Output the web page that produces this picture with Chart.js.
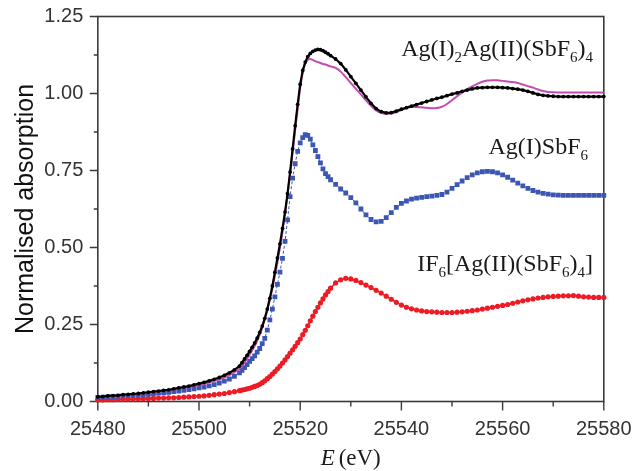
<!DOCTYPE html>
<html>
<head>
<meta charset="utf-8">
<script src="https://cdn.jsdelivr.net/npm/chart.js@4.4.1/dist/chart.umd.min.js"></script>
<style>
  html, body { margin: 0; padding: 0; background: #ffffff; }
  #wrap { width: 635px; height: 471px; }
</style>
</head>
<body>
<div id="wrap"><canvas id="c" width="635" height="471"></canvas></div>
<script>
// ---- Data ----
const energies = [
  25480,25481,25482,25483,25484,25485,25486,25487,25488,25489,
  25490,25491,25492,25493,25494,25495,25496,25497,25498,25499,
  25500,25501,25502,25503,25504,25505,25506,25507,
  25508,25508.5,25509,25509.5,25510,25510.5,25511,25511.5,25512,25512.5,
  25513,25513.5,25514,25514.5,25515,25515.5,25516,25516.5,25517,25517.5,
  25518,25518.5,25519,25519.5,25520,25520.5,25521,25521.5,25522,25522.5,
  25523,25523.5,25524,25524.5,25525,25525.5,25526,
  25527,25528,25529,25530,25531,25532,25533,25534,25535,25536,
  25537,25538,25539,25540,25541,25542,25543,25544,25545,25546,
  25547,25548,25549,25550,25551,25552,25553,25554,25555,25556,
  25557,25558,25559,25560,25561,25562,25563,25564,25565,25566,
  25567,25568,25569,25570,25571,25572,25573,25574,25575,25576,
  25577,25578,25579,25580
];

// Ag(I)2Ag(II)(SbF6)4  (black dots)
const agMixed = [
  0.015,0.016,0.018,0.019,0.020,0.022,0.023,0.025,0.026,0.028,
  0.030,0.032,0.034,0.036,0.038,0.041,0.044,0.047,0.050,0.054,
  0.058,0.062,0.067,0.072,0.078,0.085,0.093,0.103,
  0.115,0.126,0.138,0.150,0.163,0.176,0.190,0.206,0.224,0.245,
  0.270,0.300,0.335,0.375,0.420,0.466,0.512,0.562,0.615,0.675,
  0.745,0.820,0.895,0.965,1.030,1.075,1.102,1.120,1.130,1.137,
  1.141,1.143,1.142,1.139,1.134,1.129,1.123,
  1.112,1.097,1.077,1.055,1.033,1.011,0.989,0.968,0.951,0.941,
  0.937,0.938,0.943,0.949,0.954,0.959,0.964,0.969,0.974,0.979,
  0.984,0.988,0.993,0.998,1.002,1.007,1.011,1.015,1.018,1.019,
  1.020,1.020,1.020,1.019,1.018,1.016,1.014,1.011,1.007,1.002,
  0.997,0.994,0.992,0.991,0.990,0.990,0.990,0.990,0.990,0.990,
  0.990,0.990,0.990,0.990
];

// Second spectrum drawn as magenta line
const agMixedLine = [
  0.014,0.015,0.016,0.017,0.018,0.020,0.021,0.022,0.024,0.026,
  0.028,0.030,0.032,0.034,0.036,0.038,0.041,0.044,0.047,0.050,
  0.053,0.057,0.062,0.067,0.072,0.078,0.086,0.095,
  0.106,0.116,0.127,0.139,0.152,0.166,0.180,0.197,0.217,0.240,
  0.267,0.297,0.330,0.367,0.408,0.453,0.500,0.552,0.610,0.672,
  0.738,0.808,0.880,0.952,1.018,1.068,1.098,1.110,1.112,1.109,
  1.105,1.102,1.099,1.096,1.094,1.091,1.088,
  1.083,1.071,1.053,1.034,1.015,0.997,0.978,0.960,0.945,0.937,
  0.934,0.935,0.939,0.946,0.953,0.957,0.956,0.955,0.954,0.952,
  0.953,0.957,0.966,0.978,0.991,1.003,1.014,1.023,1.031,1.038,
  1.042,1.043,1.043,1.041,1.039,1.037,1.034,1.029,1.024,1.019,
  1.013,1.008,1.005,1.004,1.003,1.003,1.003,1.003,1.003,1.003,
  1.003,1.003,1.003,1.003
];

// Ag(I)SbF6 (blue squares)
const agSbF6 = [
  0.013,0.014,0.015,0.016,0.017,0.018,0.019,0.020,0.021,0.022,
  0.024,0.025,0.027,0.028,0.030,0.032,0.034,0.036,0.039,0.041,
  0.044,0.047,0.051,0.055,0.060,0.066,0.073,0.082,
  0.093,0.101,0.110,0.120,0.130,0.139,0.148,0.160,0.172,0.188,
  0.205,0.232,0.265,0.300,0.340,0.380,0.420,0.465,0.520,0.590,
  0.665,0.725,0.772,0.812,0.840,0.857,0.866,0.864,0.852,0.833,
  0.815,0.795,0.775,0.755,0.740,0.730,0.720,
  0.705,0.690,0.677,0.662,0.645,0.625,0.606,0.591,0.583,0.585,
  0.597,0.613,0.630,0.643,0.651,0.657,0.660,0.663,0.665,0.667,
  0.669,0.672,0.680,0.692,0.704,0.716,0.727,0.736,0.742,0.746,
  0.747,0.746,0.742,0.736,0.728,0.719,0.709,0.700,0.692,0.685,
  0.680,0.676,0.673,0.671,0.670,0.669,0.669,0.669,0.669,0.669,
  0.669,0.669,0.669,0.669
];

// IF6[Ag(II)(SbF6)4] (red circles)
const if6Ag = [
  0.005,0.005,0.006,0.006,0.007,0.007,0.008,0.008,0.009,0.009,
  0.010,0.010,0.011,0.011,0.012,0.012,0.013,0.014,0.015,0.016,
  0.017,0.018,0.020,0.022,0.024,0.026,0.029,0.032,
  0.035,0.037,0.039,0.041,0.043,0.046,0.049,0.052,0.056,0.061,
  0.067,0.074,0.081,0.089,0.097,0.106,0.115,0.125,0.135,0.146,
  0.157,0.168,0.179,0.191,0.203,0.217,0.231,0.246,0.262,0.277,
  0.292,0.306,0.320,0.333,0.346,0.357,0.368,
  0.385,0.395,0.400,0.398,0.393,0.386,0.378,0.370,0.361,0.352,
  0.342,0.332,0.322,0.313,0.306,0.301,0.297,0.294,0.292,0.291,
  0.290,0.289,0.289,0.289,0.290,0.291,0.293,0.295,0.297,0.300,
  0.303,0.306,0.309,0.312,0.315,0.319,0.323,0.327,0.330,0.333,
  0.336,0.338,0.340,0.341,0.342,0.343,0.343,0.344,0.342,0.340,
  0.339,0.338,0.338,0.338
];

const xTickValues = [25480, 25500, 25520, 25540, 25560, 25580];
const yTickValues = [0.00, 0.25, 0.50, 0.75, 1.00, 1.25];

const seriesLabels = [
  'Ag(I)_2Ag(II)(SbF_6)_4',
  'Ag(I)SbF_6',
  'IF_6[Ag(II)(SbF_6)_4]'
];

// ---- Build ----
const toPts = (vals) => energies.map((e, i) => ({ x: e, y: vals[i] }));

const SANS = '"Liberation Sans", Arial, Helvetica, sans-serif';
const SERIF = '"Liberation Serif", "Times New Roman", Times, serif';

function drawRich(ctx, src, xRight, baseline, size, color) {
  const parts = [];
  for (let i = 0; i < src.length; i++) {
    if (src[i] === '_') { parts.push({ t: src[i + 1], sub: true }); i++; }
    else {
      if (parts.length && !parts[parts.length - 1].sub) parts[parts.length - 1].t += src[i];
      else parts.push({ t: src[i], sub: false });
    }
  }
  const fN = size + 'px ' + SERIF;
  const fS = Math.round(size * 0.62) + 'px ' + SERIF;
  let total = 0;
  parts.forEach(p => { ctx.font = p.sub ? fS : fN; p.w = ctx.measureText(p.t).width; total += p.w; });
  let x = xRight - total;
  ctx.fillStyle = color;
  ctx.textBaseline = 'alphabetic';
  ctx.textAlign = 'left';
  parts.forEach(p => {
    ctx.font = p.sub ? fS : fN;
    ctx.fillText(p.t, x, baseline + (p.sub ? size * 0.24 : 0));
    x += p.w;
  });
}

const framePlugin = {
  id: 'frameTicks',
  beforeDatasetsDraw(chart) {
    const { ctx, chartArea: a, scales } = chart;
    const xs = scales.x, ys = scales.y;
    ctx.save();
    ctx.strokeStyle = '#3a3a3a';
    ctx.lineWidth = 1.6;
    ctx.strokeRect(a.left, a.top, a.right - a.left, a.bottom - a.top);
    ctx.lineWidth = 1.4;
    ctx.beginPath();
    for (let k = 0; k < xTickValues.length; k++) {
      const px = xs.getPixelForValue(xTickValues[k]);
      ctx.moveTo(px, a.bottom); ctx.lineTo(px, a.bottom + 9);
      if (k < xTickValues.length - 1) {
        const pm = xs.getPixelForValue((xTickValues[k] + xTickValues[k + 1]) / 2);
        ctx.moveTo(pm, a.bottom); ctx.lineTo(pm, a.bottom + 5);
      }
    }
    for (let k = 0; k < yTickValues.length; k++) {
      const py = ys.getPixelForValue(yTickValues[k]);
      ctx.moveTo(a.left, py); ctx.lineTo(a.left - 8, py);
      if (k < yTickValues.length - 1) {
        const pm = ys.getPixelForValue((yTickValues[k] + yTickValues[k + 1]) / 2);
        ctx.moveTo(a.left, pm); ctx.lineTo(a.left - 4, pm);
      }
    }
    ctx.stroke();
    ctx.restore();
  },
  afterDraw(chart) {
    const { ctx, chartArea: a } = chart;
    ctx.save();
    // x axis title: E (eV)
    const size = 23;
    ctx.textBaseline = 'alphabetic';
    ctx.fillStyle = '#1a1a1a';
    ctx.font = 'italic ' + size + 'px ' + SERIF;
    const wE = ctx.measureText('E').width;
    ctx.font = size + 'px ' + SERIF;
    const wR = ctx.measureText(' (eV)').width;
    const cx = (a.left + a.right) / 2 + 1;
    let x0 = cx - (wE + wR) / 2;
    ctx.font = 'italic ' + size + 'px ' + SERIF;
    ctx.fillText('E', x0, 465);
    ctx.font = size + 'px ' + SERIF;
    ctx.fillText(' (eV)', x0 + wE - 2, 465);
    // series labels
    drawRich(ctx, seriesLabels[0], 593, 56, 24, '#1a1a1a');
    drawRich(ctx, seriesLabels[1], 588, 154, 24, '#1a1a1a');
    drawRich(ctx, seriesLabels[2], 593, 271, 24, '#1a1a1a');
    ctx.restore();
  }
};

new Chart(document.getElementById('c'), {
  type: 'line',
  data: {
    datasets: [
      {
        label: 'Ag(I)2Ag(II)(SbF6)4',
        data: toPts(agMixed),
        borderColor: '#000000',
        borderWidth: 2.2,
        pointRadius: 1.9,
        pointBorderWidth: 0,
        pointBackgroundColor: '#000000',
        pointStyle: 'circle',
        tension: 0,
        clip: 4
      },
      {
        label: 'Ag(I)2Ag(II)(SbF6)4 (line)',
        data: toPts(agMixedLine),
        borderColor: '#c24cb0',
        borderWidth: 2,
        pointRadius: 0,
        tension: 0.2,
        clip: 4
      },
      {
        label: 'Ag(I)SbF6',
        data: toPts(agSbF6),
        borderColor: '#3b56b4',
        borderWidth: 1,
        borderDash: [3, 2],
        pointRadius: 3.4,
        pointBorderWidth: 0,
        pointBackgroundColor: '#3b56b4',
        pointStyle: 'rect',
        tension: 0,
        clip: 4
      },
      {
        label: 'IF6[Ag(II)(SbF6)4]',
        data: toPts(if6Ag),
        borderColor: '#ec1c24',
        borderWidth: 1.5,
        pointRadius: 2.6,
        pointBorderWidth: 0,
        pointBackgroundColor: '#ec1c24',
        pointStyle: 'circle',
        tension: 0,
        clip: 4
      }
    ]
  },
  options: {
    responsive: false,
    animation: false,
    devicePixelRatio: 1,
    layout: { padding: { left: 0, top: 16.5, right: 31.2, bottom: 0 } },
    plugins: { legend: { display: false }, tooltip: { enabled: false } },
    scales: {
      x: {
        type: 'linear',
        min: 25480, max: 25580,
        afterBuildTicks: (s) => { s.ticks = xTickValues.map(v => ({ value: v })); },
        afterFit: (s) => { s.height = 69.5; },
        grid: { display: false, drawTicks: true, tickLength: 15.5 },
        border: { display: false },
        ticks: {
          padding: 0,
          color: '#333333',
          font: { family: SANS, size: 20 },
          maxRotation: 0,
          callback: (v) => String(v)
        }
      },
      y: {
        type: 'linear',
        min: 0, max: 1.25,
        afterBuildTicks: (s) => { s.ticks = yTickValues.map(v => ({ value: v })); },
        afterFit: (s) => { s.width = 97.8; },
        grid: { display: false, drawTicks: true, tickLength: 14.5 },
        border: { display: false },
        ticks: {
          padding: 0,
          color: '#333333',
          font: { family: SANS, size: 20 },
          callback: (v) => Number(v).toFixed(2)
        },
        title: {
          display: true,
          text: 'Normalised absorption',
          color: '#111111',
          font: { family: SANS, size: 25 },
          padding: { top: 11, bottom: 0 }
        }
      }
    }
  },
  plugins: [framePlugin]
});
</script>
</body>
</html>
